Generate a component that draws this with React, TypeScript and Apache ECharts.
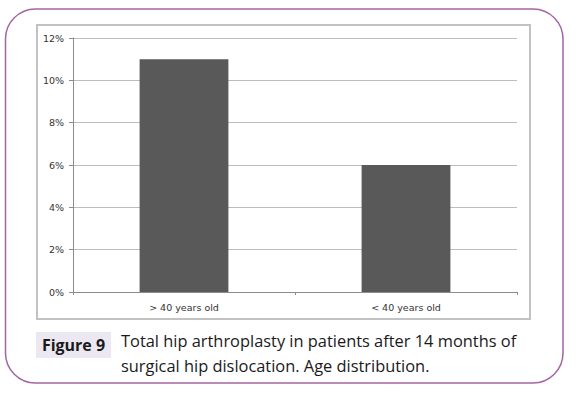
import React, { useEffect, useRef } from "react";
import * as echarts from "echarts";

const categories = ["> 40 years old", "< 40 years old"];
const values = [11, 6];
const yTicks = { min: 0, max: 12, interval: 2 };
const figureLabel = "Figure 9";
const captionLines = [
  "Total hip arthroplasty in patients after 14 months of",
  "surgical hip dislocation. Age distribution.",
];

export default function App() {
  const ref = useRef<HTMLDivElement>(null);
  useEffect(() => {
    if (!ref.current) return;
    const chart = echarts.init(ref.current, null, { renderer: "svg" });
    const font = "'Open Sans', 'Liberation Sans', sans-serif";
    chart.setOption({
      animation: false,
      backgroundColor: "#ffffff",
      grid: { left: 73, right: 63, top: 38, bottom: 101 },
      xAxis: {
        type: "category",
        data: categories,
        axisLine: { lineStyle: { color: "#8c8c8c", width: 1 } },
        axisTick: { show: true, length: 3, lineStyle: { color: "#8c8c8c" } },
        axisLabel: { fontSize: 9.5, color: "#333333", margin: 10, fontFamily: "'DejaVu Sans', sans-serif" },
      },
      yAxis: {
        type: "value",
        min: yTicks.min,
        max: yTicks.max,
        interval: yTicks.interval,
        axisLine: { show: true, lineStyle: { color: "#8c8c8c", width: 1 } },
        axisTick: { show: true, length: 4, lineStyle: { color: "#8c8c8c" } },
        axisLabel: {
          formatter: "{value}%",
          fontSize: 9.5,
          color: "#333333",
          margin: 9,
          fontFamily: "'DejaVu Sans', sans-serif",
        },
        splitLine: { show: true, lineStyle: { color: "#bdbdbd", width: 1 } },
      },
      series: [
        {
          type: "bar",
          data: values,
          barWidth: "40%",
          itemStyle: { color: "#595959" },
        },
      ],
      graphic: [
        {
          type: "rect",
          shape: { x: 5.5, y: 9, width: 557.5, height: 374, r: 30 },
          style: { fill: "none", stroke: "#a466a2", lineWidth: 1.5 },
          silent: true,
        },
        {
          type: "rect",
          shape: { x: 37, y: 25, width: 493, height: 294 },
          style: { fill: "none", stroke: "#c2c2c2", lineWidth: 2 },
          silent: true,
        },
        {
          type: "rect",
          shape: { x: 36, y: 332, width: 75, height: 26 },
          style: { fill: "#ebe8f2" },
          silent: true,
        },
        {
          type: "text",
          x: 73.5,
          y: 345,
          style: {
            text: figureLabel,
            fontSize: 16,
            fontWeight: "bold",
            fill: "#1a1a1a",
            fontFamily: font,
            align: "center",
            verticalAlign: "middle",
          },
          silent: true,
        },
        {
          type: "text",
          x: 121,
          y: 340,
          style: {
            text: captionLines[0],
            fontSize: 16.4,
            fill: "#1a1a1a",
            fontFamily: font,
            align: "left",
            verticalAlign: "middle",
          },
          silent: true,
        },
        {
          type: "text",
          x: 121,
          y: 365,
          style: {
            text: captionLines[1],
            fontSize: 16.4,
            fill: "#1a1a1a",
            fontFamily: font,
            align: "left",
            verticalAlign: "middle",
          },
          silent: true,
        },
      ],
    });
    return () => chart.dispose();
  }, []);
  return (
    <div
      ref={ref}
      style={{ width: 580, height: 393, position: "absolute", left: 0, top: 0 }}
    />
  );
}
